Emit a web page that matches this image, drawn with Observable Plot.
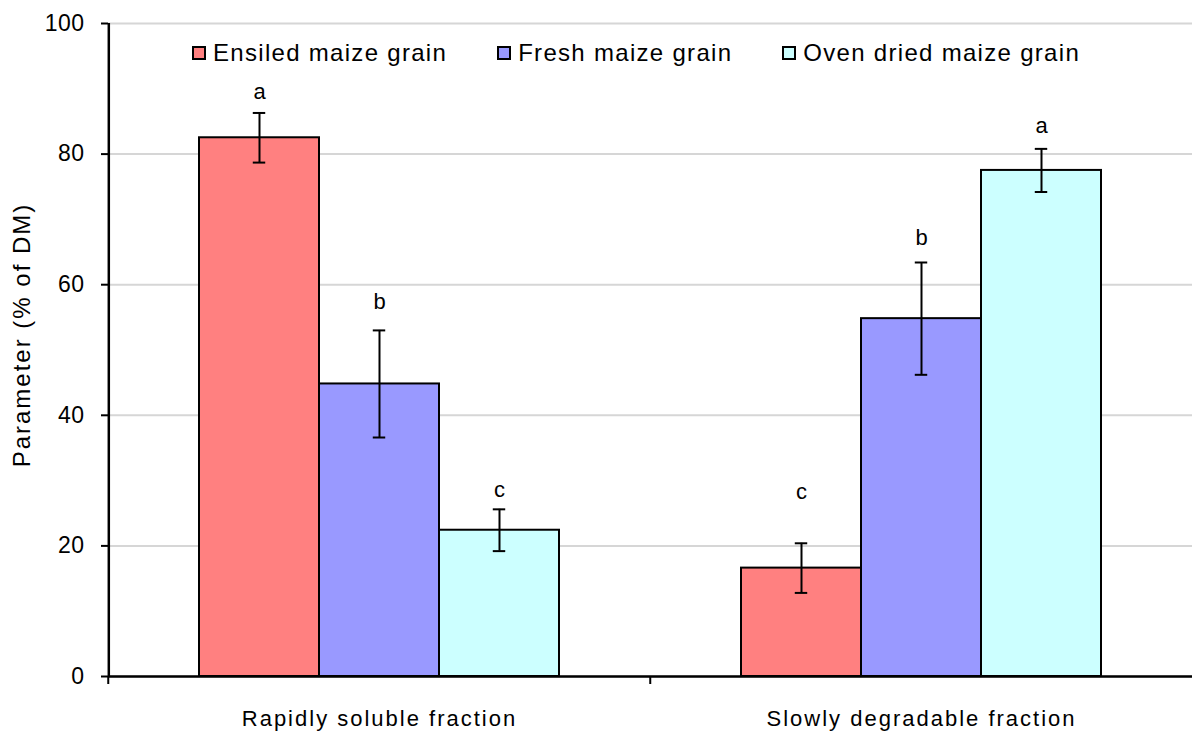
<!DOCTYPE html>
<html>
<head>
<meta charset="utf-8">
<script src="https://cdn.jsdelivr.net/npm/d3@7"></script>
<script src="https://cdn.jsdelivr.net/npm/@observablehq/plot@0.6"></script>
<style>
  html, body { margin: 0; padding: 0; background: #fff; }
  #wrap { position: relative; width: 1192px; height: 732px; font-family: "Liberation Sans", Arial, sans-serif; }
  #legend { position: absolute; top: 39px; left: 192px; display: flex; align-items: center; font-size: 24px; letter-spacing: 1.3px; color: #000; }
  #legend .item { display: flex; align-items: center; margin-right: 50px; }
  #legend .sw { width: 10px; height: 10px; border: 2px solid #000; margin-right: 7px; }
  #ylabel { position: absolute; left: 22px; top: 335px; transform: translate(-50%, -50%) rotate(-90deg); white-space: nowrap;
            font-size: 24px; letter-spacing: 2px; color: #000; }
  svg [aria-label="y-axis tick label"] text { letter-spacing: 0.5px; }
  svg [aria-label="fx-axis tick label"] text { letter-spacing: 2px; }
</style>
</head>
<body>
<div id="wrap"><div id="legend"></div><div id="ylabel"></div></div>
<script>
const categories = ["Rapidly soluble fraction", "Slowly degradable fraction"];
const series = ["Ensiled maize grain", "Fresh maize grain", "Oven dried maize grain"];
const seriesColors = ["#ff8080", "#9999ff", "#ccffff"];
const ensiledValues = [82.5, 16.6];
const ensiledErrors = [3.8, 3.8];
const freshValues = [44.8, 54.8];
const freshErrors = [8.2, 8.6];
const ovenValues = [22.4, 77.5];
const ovenErrors = [3.2, 3.3];
const ensiledLetters = ["a", "c"];
const freshLetters = ["b", "b"];
const ovenLetters = ["c", "a"];
const ensiledLetterAt = [89.5, 28.2];
const freshLetterAt = [57.3, 67.1];
const ovenLetterAt = [28.5, 84.3];
const yTicks = [0, 20, 40, 60, 80, 100];
const yLabel = "Parameter (% of DM)";

const valuesBySeries = [ensiledValues, freshValues, ovenValues];
const errorsBySeries = [ensiledErrors, freshErrors, ovenErrors];
const lettersBySeries = [ensiledLetters, freshLetters, ovenLetters];
const letterAtBySeries = [ensiledLetterAt, freshLetterAt, ovenLetterAt];

const data = [];
categories.forEach((cat, ci) => {
  series.forEach((s, si) => {
    const v = valuesBySeries[si][ci], e = errorsBySeries[si][ci];
    data.push({cat, series: s, value: v, lo: v - e, hi: v + e,
               letter: lettersBySeries[si][ci], letterAt: letterAtBySeries[si][ci]});
  });
});

const W = 1192, H = 732, ML = 107, MR = 0, MT = 23, MB = 56;
const facetW = (W - ML - MR) / categories.length;
const paddingOuter = 0.75;
const bandW = facetW / (series.length + 2 * paddingOuter);
const capW = 13;

const chart = Plot.plot({
  width: W, height: H,
  marginLeft: ML, marginRight: MR, marginTop: MT, marginBottom: MB,
  style: {fontFamily: '"Liberation Sans", Arial, sans-serif', color: "#000", background: "#fff"},
  fx: {domain: categories, padding: 0, axis: null},
  x: {domain: series, paddingInner: 0, paddingOuter, axis: null},
  y: {domain: [0, 100], axis: null},
  color: {domain: series, range: seriesColors},
  marks: [
    Plot.gridY(yTicks, {stroke: "#d6d6d6", strokeOpacity: 1, strokeWidth: 2}),
    Plot.barY(data, {fx: "cat", x: "series", y: "value", fill: "series", stroke: "#000", strokeWidth: 2}),
    Plot.ruleX(data, {fx: "cat", x: "series", y1: "lo", y2: "hi", stroke: "#000", strokeWidth: 2}),
    Plot.tickY(data, {fx: "cat", x: "series", y: "lo", stroke: "#000", strokeWidth: 2, insetLeft: (bandW - capW) / 2, insetRight: (bandW - capW) / 2}),
    Plot.tickY(data, {fx: "cat", x: "series", y: "hi", stroke: "#000", strokeWidth: 2, insetLeft: (bandW - capW) / 2, insetRight: (bandW - capW) / 2}),
    Plot.text(data, {fx: "cat", x: "series", y: "letterAt", text: "letter", fontSize: 22, lineAnchor: "middle", fill: "#000"}),
    Plot.ruleY([0], {stroke: "#000", strokeWidth: 2.5}),
    // y-axis line along the left edge of the first facet
    Plot.ruleX([categories[0]], {fx: d => d, x: () => series[0], y1: 0, y2: 100, stroke: "#000", strokeWidth: 2.5,
      dx: -(paddingOuter * bandW + bandW / 2)}),
    Plot.axisY(yTicks, {anchor: "left", tickSize: 7, tickPadding: 17, fontSize: 23, strokeWidth: 2, label: null}),
    Plot.axisFx({anchor: "bottom", text: null, tickSize: 8, strokeWidth: 2, dx: -facetW / 2, label: null}),
    Plot.axisFx({anchor: "bottom", tickSize: 0, tickPadding: 34, fontSize: 22, label: null})
  ]
});
document.getElementById("wrap").prepend(chart);
document.getElementById("ylabel").textContent = yLabel;

const legend = document.getElementById("legend");
series.forEach((s, i) => {
  const item = document.createElement("div");
  item.className = "item";
  const sw = document.createElement("div");
  sw.className = "sw";
  sw.style.background = seriesColors[i];
  const t = document.createElement("span");
  t.textContent = s;
  item.append(sw, t);
  legend.append(item);
});
</script>
</body>
</html>
